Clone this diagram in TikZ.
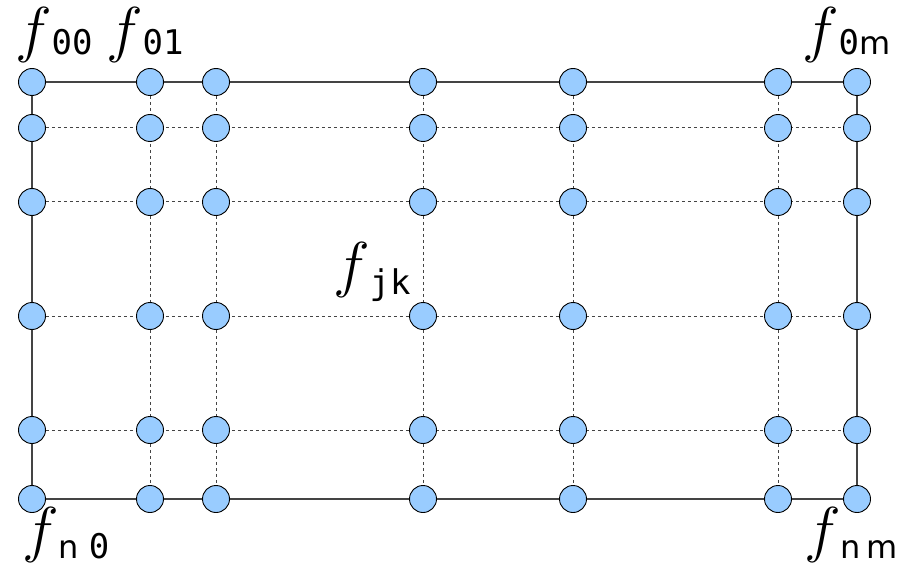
\RequirePackage{fix-cm}
\documentclass[tikz,border=0pt]{standalone}
\usepackage{fontspec}
\newfontfamily\monof{DejaVu Sans Mono}
\newfontfamily\sansf{DejaVu Sans}
\usetikzlibrary{backgrounds}
\definecolor{nodeblue}{HTML}{99CCFF}
\definecolor{linegray}{HTML}{444444}
\tikzset{
  gridpt/.style={circle,draw=black,fill=nodeblue,minimum size=27pt,inner sep=0pt,line width=0.9pt},
  solidline/.style={draw=linegray,line width=1.3pt},
  dashline/.style={draw=linegray,dash pattern=on 3pt off 3pt,line width=1pt},
  lab/.style={anchor=base west,inner sep=0pt,outer sep=0pt}
}
\newcommand\bigf{{\fontsize{62}{62}\selectfont$f$}}
\newcommand\dg[1]{{\monof\fontsize{34}{34}\selectfont #1}}
\newcommand\lt[1]{{\sansf\fontsize{32}{32}\selectfont #1}}
\newcommand\subt[2]{\raisebox{-#1}{#2}}
\begin{document}
\begin{tikzpicture}[x=1pt,y=-1pt]
\useasboundingbox (0,0) rectangle (902,564);
\foreach \y [count=\r] in {82,128,202,316,430,499} {
  \foreach \x [count=\c] in {32,150,216,423,573,778,857} {
    \node[gridpt] (n\r-\c) at (\x,\y) {};
  }
}
\begin{scope}[on background layer]
  \foreach \r in {2,...,5} \draw[dashline] (n\r-1) -- (n\r-7);
  \foreach \c in {2,...,6} \draw[dashline] (n1-\c) -- (n6-\c);
  \draw[solidline] (n1-1.center) -- (n1-7.center) -- (n6-7.center) -- (n6-1.center) -- cycle;
\end{scope}
\node[lab] (l00) at (15,51) {\bigf\subt{4pt}{\dg{00}}};
\node[lab] (l01) at (106,51) {\bigf\subt{4pt}{\dg{01}}};
\node[lab] (l0m) at (802,51) {\bigf\subt{4pt}{\dg{0}\lt{m}}};
\node[lab] (ljk) at (333,285) {\bigf\subt{9pt}{\dg{jk}}};
\node[lab] (ln0) at (22,550) {\bigf\subt{8pt}{\lt{n}\kern10pt\dg{0}}};
\node[lab] (lnm) at (804,550) {\bigf\subt{8pt}{\lt{n}\kern6pt\lt{m}}};
\end{tikzpicture}
\end{document}
